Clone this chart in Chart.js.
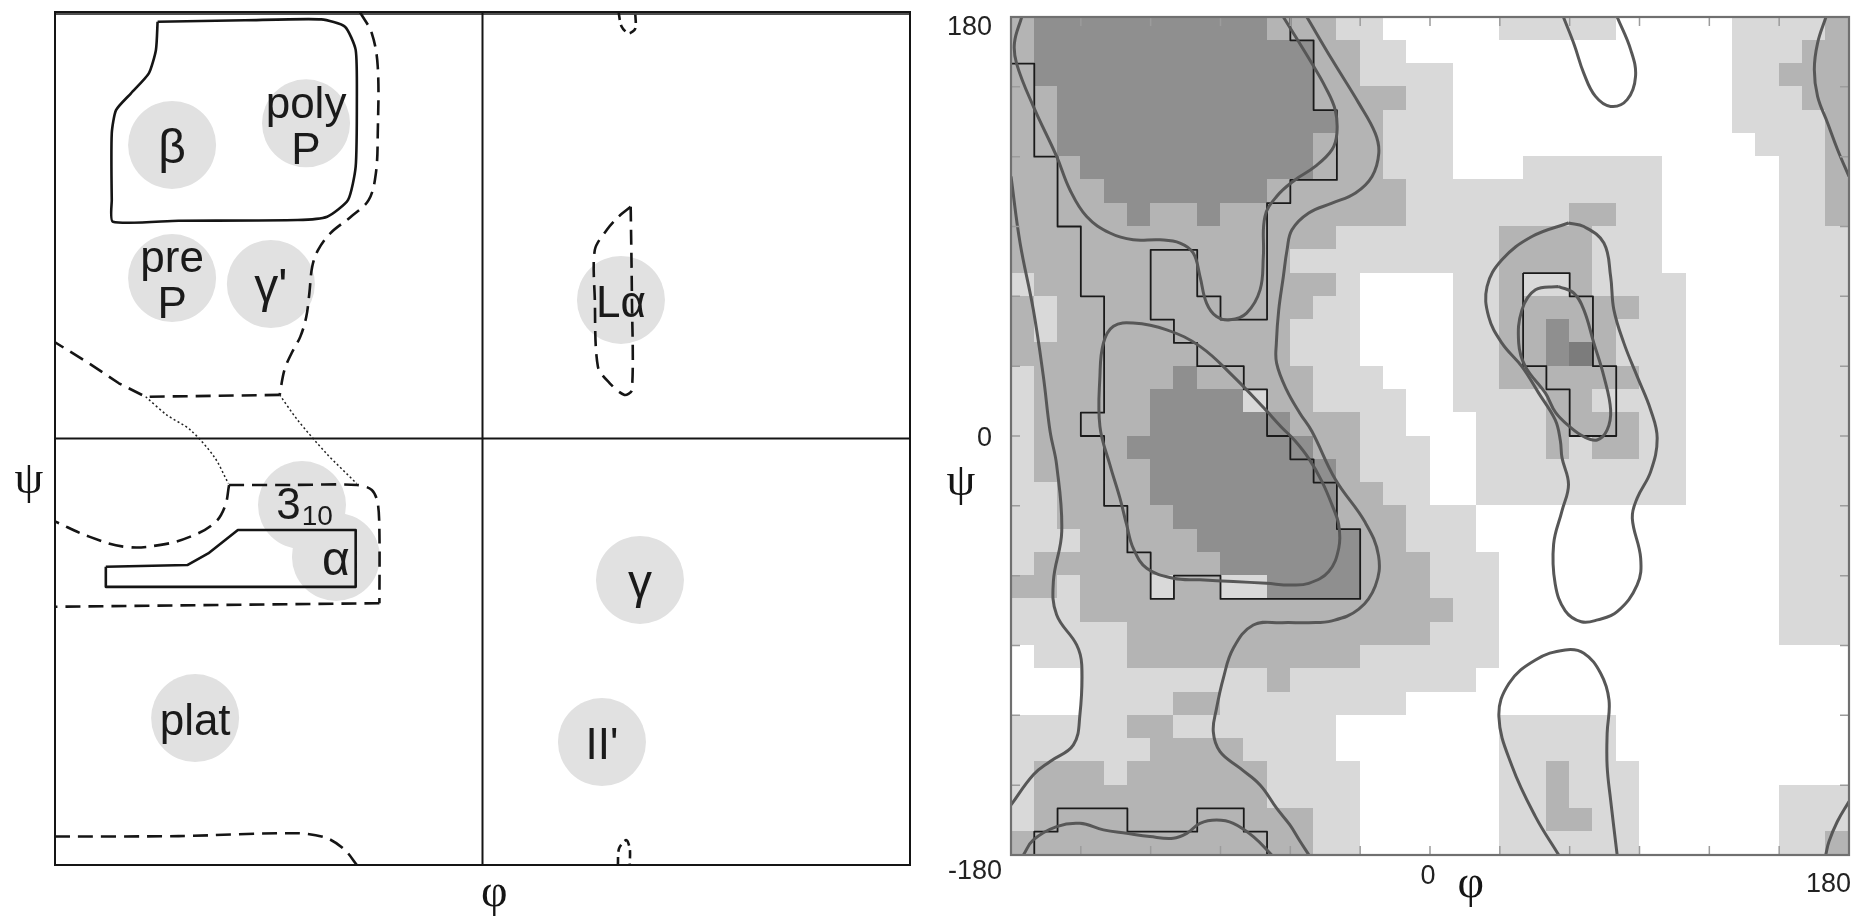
<!DOCTYPE html>
<html><head><meta charset="utf-8">
<script src="https://cdn.jsdelivr.net/npm/chart.js@4.4.1/dist/chart.umd.min.js"></script>
<style>
html,body{margin:0;padding:0;background:#fff;width:1856px;height:918px;overflow:hidden}
canvas{position:absolute;top:0}
#left{left:0}
#right{left:930px}
</style></head><body>
<canvas id="left" width="930" height="918"></canvas>
<canvas id="right" width="926" height="918"></canvas>
<script>
// ---------------- LEFT PANEL DATA (phi, psi in degrees) ----------------
const regionLabels = ['β', 'poly\nP', 'pre\nP', "γ'", 'Lα', '3₁₀', 'α', 'γ', 'plat', "II'"];
const regionPhi = [-130.7, -74.3, -130.7, -89.1, 58.3, -76.0, -61.7, 66.3, -121.0, 50.3];
const regionPsi = [123.9, 133.0, 67.7, 65.2, 58.5, -28.1, -50.0, -59.7, -118.0, -128.1];

const solidBeta = [[-136.8,175.9],[-100,176.5],[-67.9,176.9],[-57.9,173.8],[-53.4,164],[-52.9,142.9],[-53.4,114.7],[-56.6,100.7],[-65.4,93.6],[-77.9,92.2],[-128,91.9],[-155.6,91.5],[-156.1,100.7],[-156.1,128.8],[-154.3,138.6],[-148,145.7],[-140.5,154.1],[-137.5,164],[-136.8,175.9]];
const dashedBetaCurve = [[-51.6,180],[-46.6,171],[-44.1,156.9],[-44.1,128.8],[-44.9,111.9],[-47.9,100.7],[-55.4,93.6],[-64.1,86.6],[-69.2,79.6],[-71.7,72.5],[-72.9,61.3],[-74.2,51.4],[-76.7,43],[-80.4,36],[-83.4,28.9],[-85.4,18.4]];
const dashedBetaBase = [[-85.4,18.4],[-141.8,17.6],[-153.1,23.3],[-165.6,31.7],[-180,40.6]];
const dottedLeft = [[-141.8,17.6],[-133,10],[-123,3.6],[-113,-7.7],[-107,-19]];
const dottedRight = [[-85.4,18.4],[-78,8],[-66,-6],[-53,-19]];
const dashed310 = [[-106.7,-19.6],[-80,-19.6],[-52.9,-19.6],[-46.6,-21.7],[-44.1,-27.3],[-43.4,-40],[-43.4,-69.5]];
const dashed310Base = [[-43.4,-69.5],[-180,-71]];
const dashed310Left = [[-106.7,-19.6],[-108.5,-28.8],[-113,-35.8],[-123,-41.4],[-135.5,-44.9],[-150.6,-45.7],[-165.6,-41.4],[-180,-35]];
const solidAlpha = [[-158.6,-54.1],[-124.3,-53.4],[-115.5,-48.5],[-103,-38.6],[-53.4,-38.6],[-53.4,-62.6],[-158.6,-62.6],[-158.6,-54.1]];
const dashedBottom = [[-180,-168],[-128,-167.8],[-77.9,-166.6],[-65.4,-168.7],[-57.9,-173.7],[-52.9,-180]];
const dashedLaTop = [[57.3,180],[58.5,174],[61.5,171],[64.3,173],[64.3,180]];
const dashedLaBottom = [[57,-180],[57.5,-173],[60.5,-169.5],[62,-173],[62,-180]];
const dashedLa = [[62.4,97.8],[62.9,60],[62.9,20.5],[59.8,18.4],[53.6,23.3],[48.6,30.3],[47.3,58.5],[47.3,79.6],[52.3,88],[57.3,93.6],[62.4,97.8]];

// ---------------- RIGHT PANEL DATA ----------------
const binSize = 10;
// rows from psi 180 (top) down to psi -180; columns phi -180 .. 180; 0 white,1 light,2 medium,3 dark,4 darkest
const densityGrid = [
"233333333332221100000111110000011112",
"233333333333322110000000000000011122",
"233333333333322111100000000000011222",
"223333333333322221100000000000011122",
"223333333333332211100000000000011112",
"223333333333322211100000000000001112",
"222333333333322211100011111100000112",
"222233333332222221111111111100000112",
"222223223222222221111111221100000112",
"222222222222221111111222211100000111",
"222222222222111111111222211100000111",
"122222222222221000011211211110000111",
"212222222222211000011222222110000111",
"212222222222111000011223221110000111",
"222222222222111000011223421110000111",
"122222232222211100011222222110000111",
"122222333312211110011112211110000111",
"122222333333222110001112222110000111",
"122223333333322111001112122110000111",
"122222333333332111001111111110000111",
"112222333333332211001111111110000111",
"112222233333332221110000000000000111",
"111222223333333221110000000000000111",
"122222222333333222111000000000000111",
"221222122113333222111000000000000111",
"111222222222222222211000000000000111",
"111112222222222222111000000000000111",
"011112222222222111111000000000000000",
"000111111112111111110000000000000000",
"000111122111111110000000000000000000",
"111112211111110000000111110000000000",
"111111222211110000000111110000000000",
"122212222221111000000112111000000000",
"122222222221111000000112111000000111",
"122222222222211000000112211000000111",
"222222222222211000000111111000000112"
];
const stepMain = [[-180,160],[-170,160],[-170,120],[-160,120],[-160,90],[-150,90],[-150,60],[-140,60],[-140,10],[-150,10],[-150,0],[-140,0],[-140,-30],[-130,-30],[-130,-50],[-120,-50],[-120,-70],[-110,-70],[-110,-60],[-90,-60],[-90,-70],[-30,-70],[-30,-40],[-40,-40],[-40,-20],[-50,-20],[-50,-10],[-60,-10],[-60,0],[-70,0],[-70,20],[-80,20],[-80,30],[-100,30],[-100,40],[-110,40],[-110,50],[-120,50],[-120,80],[-100,80],[-100,60],[-90,60],[-90,50],[-70,50],[-70,100],[-60,100],[-60,110],[-40,110],[-40,140],[-50,140],[-50,170],[-60,170],[-60,180]];
const stepBottom = [[-170,-180],[-170,-170],[-160,-170],[-160,-160],[-130,-160],[-130,-170],[-100,-170],[-100,-160],[-80,-160],[-80,-170],[-70,-170],[-70,-180]];
const stepLa = [[40,70],[60,70],[60,60],[70,60],[70,30],[80,30],[80,0],[60,0],[60,20],[50,20],[50,30],[40,30],[40,70]];

const contourBetaTop = [[-175.4,180],[-178.5,169],[-177.6,160],[-170.4,141.6],[-160.4,120.1],[-154.7,105.8],[-147.5,94.3],[-137.5,87.2],[-127.5,84.3],[-116,84.3],[-107.4,82.9],[-101.7,78.6],[-98.8,68.5],[-96,57.1],[-91.7,51.3],[-85.9,49.9],[-78.8,52.8],[-73,62.8],[-71.6,77.1],[-70.9,94.3],[-65.9,102.9],[-58,110],[-49.3,115.8],[-42.1,123],[-40,130],[-40.7,140],[-45,150],[-50.7,160],[-57,170.3],[-63,180]];
const contourBetaBottom = [[-174.7,-180],[-170.4,-173.5],[-160.4,-167.8],[-150.4,-166.4],[-140.3,-169.2],[-130.3,-170.7],[-120.3,-172.1],[-110.3,-172.8],[-104.5,-170.7],[-98.8,-166.4],[-91.7,-165],[-84.5,-166.4],[-75.9,-172.1],[-68,-180]];
const contourOuterRight = [[-52.9,180],[-42.1,161.7],[-30.6,143],[-23.5,130],[-22,121.5],[-24.9,111.5],[-32,104.4],[-42.1,100],[-52.1,95.8],[-59.3,88.6],[-61.4,80],[-63,68.5],[-65,54],[-66,40],[-65.9,31.3],[-61.6,19.8],[-55.9,9.8],[-50.7,1.9],[-40.7,-18.6],[-27.8,-37.2],[-22.1,-51.5],[-23.5,-64.4],[-30.6,-74.4],[-42.1,-79.4],[-52.1,-80.2],[-63.6,-80.2],[-75.9,-81.2],[-84.5,-91.2],[-88.8,-104.1],[-91.7,-117],[-93.1,-127],[-90.2,-135.6],[-81.6,-142.7],[-73,-149.9],[-65.9,-159.9],[-60.2,-167.1],[-55.9,-174],[-52,-180]];
const contourOuterLeft = [[-180,111.5],[-176.1,82.9],[-170.4,54.2],[-166.1,25.6],[-163.2,1.9],[-160.4,-12.4],[-158.2,-41],[-161.8,-62.5],[-160.4,-76.8],[-151.8,-89.7],[-149.6,-98.3],[-150.4,-119.8],[-153.2,-132.7],[-163.2,-139.8],[-170.4,-145.5],[-180,-158.5]];
const contourWrapTop = [[170.1,180],[166.5,168.8],[165.1,157.4],[166.5,145.9],[170.8,134.5],[175.1,123],[180,111.5]];
const contourWrapBottom = [[180,-157],[175,-165.6],[171.4,-174.2],[170,-180]];
const contourAlpha = [[-70.2,10.8],[-84.5,25.6],[-98.8,38.5],[-113.1,45.6],[-127.5,48.5],[-136,47.1],[-140.3,39.9],[-141.8,25.6],[-141.8,4.1],[-137.5,-12.4],[-133.2,-26.7],[-130.3,-38.2],[-127.5,-48.2],[-121.7,-56.8],[-110.3,-61.1],[-98.8,-61.8],[-84.5,-62.5],[-70.2,-63.3],[-60,-64],[-52.1,-63.3],[-43.5,-58.2],[-39.2,-48.2],[-39.2,-38.2],[-42.1,-29.6],[-46.4,-19.6],[-52.1,-9.6],[-58,-2],[-64,4],[-70.2,10.8]];
const contourLaOuter = [[59.5,91.5],[66.1,90],[74.7,82.9],[77.6,68.5],[79,54.2],[83.3,39.9],[89,25.6],[94.8,11.2],[97.6,-1],[94.8,-15.3],[89,-26.7],[86.9,-35.3],[90.5,-52.5],[89,-64],[80.4,-75.5],[72,-79],[65,-79.8],[58.1,-75.1],[53.8,-63.7],[53.1,-46.5],[56.7,-32.2],[59.5,-20.8],[56.7,-9.3],[56,-2],[53.8,6.9],[46.7,18.4],[39.5,29.8],[30.9,39.9],[25.2,51.3],[24.5,64.2],[30.9,75.7],[43.8,85.7],[59.5,91.5]];
const contourLaInner = [[55.3,64.2],[61.8,61.4],[66.1,54.2],[70.4,39.9],[74.7,25.6],[77.6,11.2],[76.1,2.6],[71.8,-1.7],[66.1,-0.3],[60,4],[54,10],[49.6,18.4],[41,29.8],[38.1,39.9],[39.5,54.2],[45.3,62.8],[55.3,64.2]];
const contourLoopTop = [[57.3,180],[62,168],[66,156],[71,146],[77.6,141.6],[84.7,144.5],[88.3,154.5],[86.2,166],[80.4,180]];
const contourLoopBottom = [[55.3,-180],[45.3,-163.5],[35.3,-142],[29.6,-120.6],[33.9,-106.3],[45.3,-96.2],[58.1,-91.9],[66.1,-93.3],[73.3,-101.9],[76.9,-113.4],[76.1,-127.7],[76.1,-142],[77.6,-156.4],[80.4,-180]];

const tickValues = [-150,-120,-90,-60,-30,0,30,60,90,120,150];
const psiTickLabels = ['180', '0', '-180'];
const psiTickValues = [180, 0, -180];
const phiTickLabels = ['0', '180'];
const phiTickValues = [0, 180];
const axisTitles = ['φ', 'ψ'];

// ---------------- helpers ----------------
const pts = a => a.map(([x, y]) => ({x, y}));
function line(a, o) {
  return {data: pts(a), showLine: true, pointRadius: 0, pointHoverRadius: 0, fill: false,
    borderColor: o.color, borderWidth: o.width, tension: o.tension, borderDash: o.dash || [],
    borderCapStyle: 'butt', borderJoinStyle: 'round', order: o.order || 1};
}
const commonOpts = (pad) => ({
  responsive: false, animation: false, events: [], devicePixelRatio: 1,
  layout: {padding: pad, autoPadding: false},
  plugins: {legend: {display: false}, tooltip: {enabled: false}},
  scales: {
    x: {type: 'linear', min: -180, max: 180, display: false},
    y: {type: 'linear', min: -180, max: 180, display: false}
  }
});

// ---------------- LEFT CHART ----------------
const INK = '#151515';
const leftDecor = {
  id: 'leftDecor',
  afterDatasetsDraw(chart) {
    const {ctx, chartArea: a, scales: {x, y}} = chart;
    ctx.save();
    ctx.strokeStyle = INK; ctx.lineWidth = 2;
    const x0 = x.getPixelForValue(0), y0 = y.getPixelForValue(0);
    ctx.beginPath();
    ctx.moveTo(x0, a.top); ctx.lineTo(x0, a.bottom);
    ctx.moveTo(a.left, y0); ctx.lineTo(a.right, y0);
    ctx.stroke();
    ctx.strokeRect(a.left, a.top, a.right - a.left, a.bottom - a.top);
    ctx.lineWidth = 1.5;
    ctx.beginPath(); ctx.moveTo(a.left, a.top + 2); ctx.lineTo(a.right, a.top + 2); ctx.stroke();
    // region labels
    ctx.fillStyle = '#1a1a1a';
    ctx.textAlign = 'center'; ctx.textBaseline = 'middle';
    regionLabels.forEach((t, i) => {
      const px = x.getPixelForValue(regionPhi[i]);
      const py = y.getPixelForValue(regionPsi[i]);
      const sub = t.match(/[₀-₉]+/);
      if (sub) {
        const main = t.replace(/[₀-₉]+/, '');
        const subTxt = sub[0].split('').map(ch => String.fromCharCode(ch.charCodeAt(0) - 0x2080 + 48)).join('');
        ctx.font = '44px "Liberation Sans", Arial, sans-serif';
        const w1 = ctx.measureText(main).width;
        ctx.font = '28px "Liberation Sans", Arial, sans-serif';
        const w2 = ctx.measureText(subTxt).width;
        const sx = px - (w1 + w2) / 2 + 2;
        ctx.textAlign = 'left';
        ctx.font = '44px "Liberation Sans", Arial, sans-serif';
        ctx.fillText(main, sx, py + 2);
        ctx.font = '28px "Liberation Sans", Arial, sans-serif';
        ctx.fillText(subTxt, sx + w1 + 1, py + 12);
        ctx.textAlign = 'center';
        return;
      }
      const lines = t.split('\n');
      const greek = /^[α-ω]'?$/.test(t);
      ctx.font = (greek ? '48px' : '44px') + ' "Liberation Sans", Arial, sans-serif';
      const lh = 46;
      lines.forEach((ln, k) => {
        ctx.fillText(ln, px, py + 5 + (k - (lines.length - 1) / 2) * lh);
      });
    });
    // axis titles
    ctx.font = '46px "Liberation Serif", "DejaVu Serif", serif';
    ctx.fillStyle = INK;
    ctx.fillText(axisTitles[0], x.getPixelForValue(5), a.bottom + 29);
    ctx.fillText(axisTitles[1], a.left - 26, y.getPixelForValue(-18));
    ctx.restore();
  }
};

const dashW = 2.6, dash = [15, 8];
new Chart(document.getElementById('left'), {
  type: 'scatter',
  data: {datasets: [
    {data: regionPhi.map((p, i) => ({x: p, y: regionPsi[i]})), pointRadius: 44, pointHoverRadius: 44,
     pointBackgroundColor: '#e1e1e1', pointBorderWidth: 0, showLine: false, order: 10},
    line(solidBeta, {color: INK, width: 2.6, tension: 0.2}),
    line(dashedBetaCurve, {color: INK, width: dashW, tension: 0.35, dash}),
    line(dashedBetaBase, {color: INK, width: dashW, tension: 0, dash}),
    line(dottedLeft, {color: '#222', width: 1.5, tension: 0.3, dash: [2, 2.5]}),
    line(dottedRight, {color: '#222', width: 1.5, tension: 0.3, dash: [2, 2.5]}),
    line(dashed310, {color: INK, width: dashW, tension: 0.3, dash}),
    line(dashed310Base, {color: INK, width: dashW, tension: 0, dash}),
    line(dashed310Left, {color: INK, width: dashW, tension: 0.4, dash}),
    line(solidAlpha, {color: INK, width: 2.6, tension: 0}),
    line(dashedBottom, {color: INK, width: dashW, tension: 0.3, dash}),
    line(dashedLaTop, {color: INK, width: dashW, tension: 0.3, dash: [8, 5]}),
    line(dashedLaBottom, {color: INK, width: dashW, tension: 0.3, dash: [8, 5]}),
    line(dashedLa, {color: INK, width: dashW, tension: 0.3, dash})
  ]},
  options: commonOpts({left: 55, right: 20, top: 12, bottom: 53}),
  plugins: [leftDecor]
});

// ---------------- RIGHT CHART ----------------
const cellShades = ['#ffffff', '#d9d9d9', '#b4b4b4', '#8f8f8f', '#7c7c7c'];
const cellLayer = {
  id: 'cellLayer',
  beforeDatasetsDraw(chart) {
    const {ctx, scales: {x, y}} = chart;
    ctx.save();
    densityGrid.forEach((row, r) => {
      const psiTop = 180 - r * binSize;
      for (let c = 0; c < row.length; c++) {
        const phiLeft = -180 + c * binSize;
        const x0 = Math.floor(x.getPixelForValue(phiLeft)), x1 = Math.ceil(x.getPixelForValue(phiLeft + binSize));
        const y0 = Math.floor(y.getPixelForValue(psiTop)), y1 = Math.ceil(y.getPixelForValue(psiTop - binSize));
        ctx.fillStyle = cellShades[+row[c]];
        ctx.fillRect(x0, y0, x1 - x0, y1 - y0);
      }
    });
    ctx.restore();
  },
  afterDatasetsDraw(chart) {
    const {ctx, chartArea: a, scales: {x, y}} = chart;
    ctx.save();
    ctx.strokeStyle = '#9c9c9c'; ctx.lineWidth = 1.5;
    ctx.beginPath();
    tickValues.forEach(v => {
      const px = x.getPixelForValue(v), py = y.getPixelForValue(v);
      ctx.moveTo(px, a.bottom); ctx.lineTo(px, a.bottom - 9);
      ctx.moveTo(px, a.top); ctx.lineTo(px, a.top + 9);
      ctx.moveTo(a.left, py); ctx.lineTo(a.left + 9, py);
      ctx.moveTo(a.right, py); ctx.lineTo(a.right - 9, py);
    });
    ctx.stroke();
    ctx.strokeStyle = '#707070'; ctx.lineWidth = 2.2;
    ctx.strokeRect(a.left, a.top, a.right - a.left, a.bottom - a.top);
    // tick labels
    ctx.fillStyle = '#222';
    ctx.font = '27px "Liberation Sans", Arial, sans-serif';
    ctx.textAlign = 'right';
    psiTickValues.forEach((v, i) => {
      const py = y.getPixelForValue(v);
      if (v === 180) { ctx.textBaseline = 'top'; ctx.fillText(psiTickLabels[i], a.left - 19, py - 3); }
      else if (v === -180) { ctx.textBaseline = 'top'; ctx.fillText(psiTickLabels[i], a.left - 9, py + 3); }
      else { ctx.textBaseline = 'middle'; ctx.fillText(psiTickLabels[i], a.left - 19, py + 3); }
    });
    phiTickValues.forEach((v, i) => {
      const px = x.getPixelForValue(v);
      ctx.textBaseline = 'top';
      if (v === 180) { ctx.textAlign = 'right'; ctx.fillText(phiTickLabels[i], px + 2, a.bottom + 16); }
      else { ctx.textAlign = 'center'; ctx.fillText(phiTickLabels[i], px - 2, a.bottom + 8); }
    });
    // axis titles
    ctx.font = '46px "Liberation Serif", "DejaVu Serif", serif';
    ctx.textAlign = 'center'; ctx.textBaseline = 'middle';
    ctx.fillStyle = '#151515';
    ctx.fillText(axisTitles[0], x.getPixelForValue(17.5), a.bottom + 30);
    ctx.fillText(axisTitles[1], a.left - 50, y.getPixelForValue(-20));
    ctx.restore();
  }
};

const CONTOUR = '#575757';
const contourSet = [contourBetaTop, contourBetaBottom, contourOuterRight, contourOuterLeft, contourWrapTop,
  contourWrapBottom, contourAlpha, contourLaOuter, contourLaInner, contourLoopTop, contourLoopBottom];
new Chart(document.getElementById('right'), {
  type: 'scatter',
  data: {datasets: [
    ...[stepMain, stepBottom, stepLa].map(p => line(p, {color: '#1a1a1a', width: 1.8, tension: 0, order: 5})),
    ...contourSet.map(p => line(p, {color: CONTOUR, width: 3, tension: 0.4, order: 1}))
  ]},
  options: commonOpts({left: 81, right: 7, top: 17, bottom: 63}),
  plugins: [cellLayer]
});
</script></body></html>
